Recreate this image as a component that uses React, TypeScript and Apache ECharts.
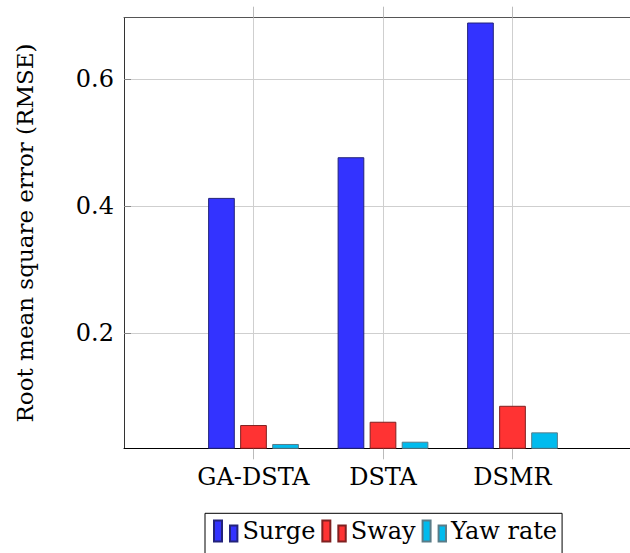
import React, { useEffect, useRef } from "react";
import * as echarts from "echarts";

const categories = ["GA-DSTA", "DSTA", "DSMR"];
const seriesNames = ["Surge", "Sway", "Yaw rate"];
const surge = [0.413, 0.477, 0.689];
const sway = [0.0555, 0.0607, 0.0858];
const yawRate = [0.0257, 0.0293, 0.044];
const yTicks = [0.2, 0.4, 0.6];
const yMin = 0.0189;
const yMax = 0.6966;

const FONT = "DejaVu Serif";
const W = 660;

export default function App() {
  const ref = useRef<HTMLDivElement>(null);
  useEffect(() => {
    if (!ref.current) return;
    const chart = echarts.init(ref.current, undefined, { renderer: "svg" });
    const axisCats = ["", ...categories, ""];
    const pad = (arr: number[]) => [null, ...arr, null];
    const tickIdx = (i: number) => i >= 1 && i <= categories.length;
    const fills = ["#3333ff", "#ff3333", "#00bbee"];
    const borders = ["#23237a", "#7f2020", "#5a7c88"];
    const values = [surge, sway, yawRate];
    chart.setOption({
      animation: false,
      grid: {
        left: 124,
        top: 17.7,
        right: W - 642,
        bottom: 104.7,
        show: false,
      },
      xAxis: [
        {
          type: "category",
          data: axisCats,
          boundaryGap: false,
          axisLine: { show: true, lineStyle: { color: "#000", width: 1 } },
          axisTick: { show: true, interval: tickIdx, length: 11, lineStyle: { color: "#bbb" } },
          axisLabel: { interval: 0, margin: 17, fontFamily: FONT, fontSize: 24, color: "#000" },
          splitLine: { show: true, interval: tickIdx, lineStyle: { color: "#cfcfcf", width: 1 } },
        },
        {
          type: "category",
          data: axisCats,
          position: "top",
          boundaryGap: false,
          axisLine: { show: true, lineStyle: { color: "#555", width: 1 } },
          axisTick: { show: true, interval: tickIdx, length: 11, lineStyle: { color: "#bbb" } },
          axisLabel: { show: false },
          splitLine: { show: false },
        },
      ],
      yAxis: {
        type: "value",
        min: yMin,
        max: yMax,
        name: "Root mean square error (RMSE)",
        nameLocation: "middle",
        nameGap: 88,
        nameTextStyle: { fontFamily: FONT, fontSize: 23, color: "#000" },
        axisLine: { show: true, lineStyle: { color: "#333", width: 1 } },
        axisTick: { show: true, inside: true, length: 7, customValues: yTicks, lineStyle: { color: "#888" } },
        axisLabel: {
          customValues: yTicks,
          margin: 10,
          fontFamily: FONT,
          fontSize: 24,
          color: "#000",
          formatter: (v: number) => v.toFixed(1),
        },
        splitLine: { show: true, lineStyle: { color: "#cfcfcf", width: 1 } },
      },
      legend: {
        data: seriesNames,
        left: 205,
        top: 513.3,
        orient: "horizontal",
        borderColor: "#000",
        borderWidth: 1,
        padding: [5.7, 5, 20, 8],
        itemWidth: 23.4,
        itemHeight: 21,
        itemGap: 6,
        icon: "path://M0,0H8V21H0Z M16,5H23.4V21H16Z",
        textStyle: { fontFamily: FONT, fontSize: 24, color: "#000" },
      },
      series: seriesNames.map((name, k) => ({
        name,
        type: "bar",
        xAxisIndex: 0,
        data: pad(values[k]),
        barWidth: 26.7,
        barGap: "20%",
        itemStyle: { color: fills[k], borderColor: borders[k], borderWidth: 1 },
      })),
    });
    return () => chart.dispose();
  }, []);
  return (
    <div
      style={{
        position: "fixed",
        left: 0,
        top: 0,
        width: 630,
        height: 553,
        overflow: "hidden",
        background: "#fff",
      }}
    >
      <div ref={ref} style={{ width: W, height: 553 }} />
    </div>
  );
}
